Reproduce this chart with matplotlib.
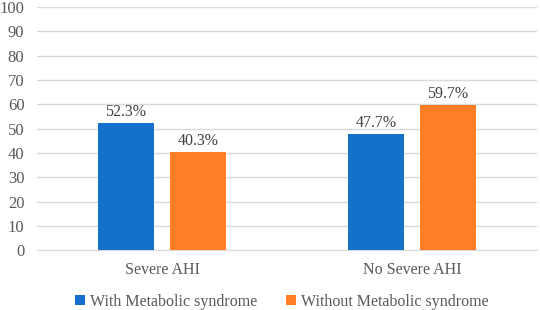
import numpy as np
import matplotlib
matplotlib.use("Agg")
import matplotlib.pyplot as plt

plt.rcParams['font.family'] = ['Liberation Serif', 'DejaVu Serif']

categories = ["Severe AHI", "No Severe AHI"]
series_names = ["With Metabolic syndrome", "Without Metabolic syndrome"]
with_ms = [52.3, 47.7]
without_ms = [40.3, 59.7]
colors = ["#1570C9", "#FF7F27"]
text_color = "#595959"
grid_color = "#D9D9D9"

fig = plt.figure(figsize=(5.4, 3.1), dpi=100)
ax = fig.add_axes([0.0685, 0.192, 0.926, 0.785])

x = np.arange(len(categories))
width = 0.224
offset = 0.144
for vals, name, col, sign in [(with_ms, series_names[0], colors[0], -1),
                              (without_ms, series_names[1], colors[1], 1)]:
    bars = ax.bar(x + sign * offset, vals, width, color=col, label=name, zorder=3)
    for b, v in zip(bars, vals):
        ax.text(b.get_x() + b.get_width() / 2, v + 1.5, f"{v:.1f}%",
                ha='center', va='bottom', fontsize=11.5, color="#404040")

ax.set_xlim(-0.5, 1.5)
ax.set_ylim(0, 100)
ax.set_yticks(range(0, 101, 10))
ax.set_xticks(x)
ax.set_xticklabels(categories)
ax.grid(axis='y', color=grid_color, linewidth=1, zorder=0)
for s in ['top', 'right', 'left']:
    ax.spines[s].set_visible(False)
ax.spines['bottom'].set_color(grid_color)
ax.tick_params(axis='both', length=0, labelsize=11.5, colors=text_color)
ax.tick_params(axis='y', labelsize=12, pad=9)
ax.tick_params(axis='x', pad=8)

ax.legend(loc='upper center', bbox_to_anchor=(0.49, -0.12), ncol=2, frameon=False,
          fontsize=11.5, handlelength=0.6, handleheight=0.6, handletextpad=0.35,
          columnspacing=1.8, labelcolor=text_color)

fig.savefig("out.png", dpi=100)
